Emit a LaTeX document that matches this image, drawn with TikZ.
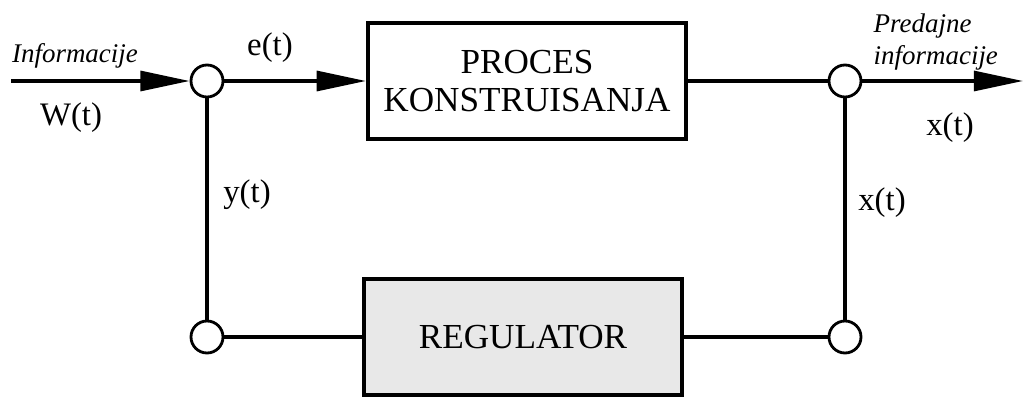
\documentclass[tikz,border=0pt]{standalone}
\usepackage{fontspec}
\setmainfont{Liberation Serif}
\usetikzlibrary{arrows.meta}

\begin{document}
\begin{tikzpicture}[x=0.03cm,y=-0.03cm,line width=2.9pt,
  spoj/.style={circle,draw,fill=white,line width=2.4pt,minimum size=0.96cm,inner sep=0pt},
  blok/.style={draw,line width=3.6pt,minimum width=9.54cm,minimum height=3.5cm,
    align=center,font=\fontsize{30}{33}\selectfont},
  oznaka/.style={inner sep=0pt,font=\fontsize{28}{30}\selectfont},
  kurziv/.style={inner sep=0pt,font=\fontsize{23}{28}\selectfont\itshape},
  strela/.style={-{Triangle[length=42pt,width=17pt]}}]
  \useasboundingbox (0,0) rectangle (1023,397);
  % blokovi
  \node[blok] (proces) at (527,81) {PROCES\\KONSTRUISANJA};
  \node[blok,fill=black!9] (regulator) at (523,337) {REGULATOR};
  % cvorovi
  \node[spoj] (sumin)  at (207,81)  {};
  \node[spoj] (sumout) at (845,81)  {};
  \node[spoj] (kin)    at (207,337) {};
  \node[spoj] (kout)   at (845,337) {};
  \coordinate (ulaz)  at (11,81);
  \coordinate (izlaz) at (1023,81);
  % veze
  \draw[strela] (ulaz) -- (sumin.west);
  \draw[strela] (sumin.east) -- (proces.west);
  \draw (proces.east) -- (sumout.west);
  \draw[strela] (sumout.east) -- (izlaz);
  \draw (sumin.south) -- (kin.north);
  \draw (kin.east) -- (regulator.west);
  \draw (regulator.east) -- (kout.west);
  \draw (kout.north) -- (sumout.south);
  % oznake
  \node[kurziv] (info) at (75,56) {Informacije};
  \node[oznaka] (wt) at (71,118) {W(t)};
  \node[oznaka] (et) at (270,48) {e(t)};
  \node[kurziv,anchor=west] (pred) at (872,26) {Predajne};
  \node[kurziv,anchor=west] (predinfo) at (872,58) {informacije};
  \node[oznaka] (xtizl) at (950,128) {x(t)};
  \node[oznaka] (yt) at (247,195) {y(t)};
  \node[oznaka] (xt) at (882,203) {x(t)};
\end{tikzpicture}
\end{document}
